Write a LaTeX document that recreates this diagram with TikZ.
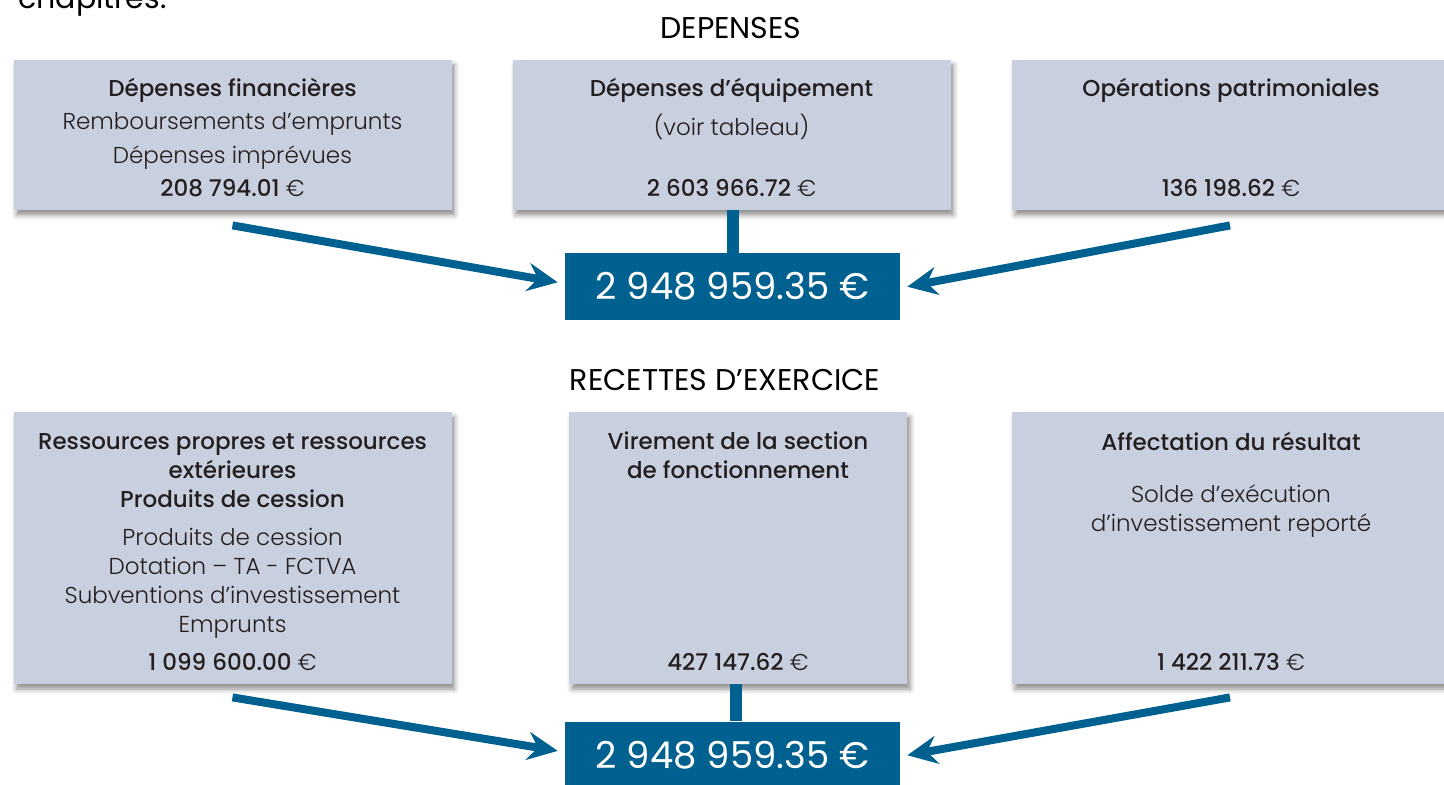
\documentclass[tikz,border=0pt]{standalone}
\usepackage{fontspec}
\setmainfont{Poppins}[UprightFont=* Light, BoldFont=* Medium]
\newfontfamily\headfont{Poppins}
\usetikzlibrary{positioning,calc,arrows.meta,shadows.blur}
\definecolor{panelgray}{HTML}{C8CFDF}
\definecolor{deepblue}{HTML}{00608F}
\definecolor{inkgray}{HTML}{231F20}
\tikzset{
  panel/.style={fill=panelgray, inner sep=0pt, minimum width=219pt,
    blur shadow={shadow xshift=1.5pt, shadow yshift=-2.5pt, shadow blur radius=2.5pt, shadow opacity=45}},
  boxtext/.style={inner sep=0pt, align=center, text=inkgray, font=\fontsize{11.5}{14.5}\selectfont},
  amount/.style={inner sep=0pt, anchor=base, text=inkgray, font=\fontsize{11.5}{14.5}\selectfont},
  total/.style={fill=deepblue, text=white, inner sep=0pt, minimum width=167.5pt, minimum height=33.5pt, font=\headfont\fontsize{18.5}{23}\selectfont},
  heading/.style={inner sep=0pt, text=black, font=\headfont\fontsize{15}{18}\selectfont},
  stub/.style={deepblue, line width=6pt},
  flow/.style={deepblue, line width=4pt, -{Stealth[length=15pt, width=14pt, inset=5pt]}, shorten >=3.5pt}
}
\begin{document}
\begin{tikzpicture}[x=0.5pt, y=-0.5pt]
  \useasboundingbox (0,0) rectangle (1444,785);
  \node[heading, anchor=base west] (intro) at (18,9) {chapitres.};

  % depenses
  \node[heading] (depTitle) at (731,28) {DEPENSES};
  \node[panel, minimum height=75pt] (depFin) at (232.5,135) {};
  \node[panel, minimum height=75pt] (depEquip) at (731.5,135) {};
  \node[panel, minimum height=75pt] (depPatri) at (1231,135) {};
  \node[boxtext, anchor=north] (depFinTxt) at ($(depFin.north)+(0,18)$)
    {\textbf{Dépenses financières}\\[2.25pt] Remboursements d’emprunts\\[2.25pt] Dépenses imprévues};
  \node[boxtext, anchor=north] (depEquipTxt) at ($(depEquip.north)+(0,18)$)
    {\textbf{Dépenses d’équipement}\\[5pt] (voir tableau)};
  \node[boxtext, anchor=north] (depPatriTxt) at ($(depPatri.north)+(0,18)$)
    {\textbf{Opérations patrimoniales}};
  \node[amount] (depFinVal) at ($(depFin.south)+(0,-14)$) {\textbf{208 794.01} €};
  \node[amount] (depEquipVal) at ($(depEquip.south)+(0,-14)$) {\textbf{2 603 966.72} €};
  \node[amount] (depPatriVal) at ($(depPatri.south)+(0,-14)$) {\textbf{136 198.62} €};
  \node[total] (depTotal) at (732.5,286.5) {2 948 959.35 €};
  \draw[stub] (depTotal.north) -- (depTotal.north |- depEquip.south);
  \coordinate (depFinEnd) at ($(depFin.south)+(0,15)$);
  \coordinate (depPatriEnd) at ($(depPatri.south)+(-1,15)$);
  \draw[flow] (depFinEnd) -- ($(depTotal.west)+(0,-3)$);
  \draw[flow] (depPatriEnd) -- ($(depTotal.east)+(0,1.5)$);

  % recettes
  \node[heading] (recTitle) at (725,380) {RECETTES D’EXERCICE};
  \node[panel, minimum height=136pt] (recRes) at (232.5,548) {};
  \node[panel, minimum height=136pt, minimum width=169pt] (recVir) at (738,548) {};
  \node[panel, minimum height=136pt] (recAff) at (1231,548) {};
  \node[boxtext, anchor=north] (recResTxt) at ($(recRes.north)+(0,22)$)
    {\textbf{Ressources propres et ressources}\\ \textbf{extérieures}\\ \textbf{Produits de cession}\\[4.5pt]
     Produits de cession\\ Dotation – TA - FCTVA\\ Subventions d’investissement\\ Emprunts};
  \node[boxtext, anchor=north] (recVirTxt) at ($(recVir.north)+(0,20)$)
    {\textbf{Virement de la section}\\ \textbf{de fonctionnement}};
  \node[boxtext, anchor=north] (recAffTxt) at ($(recAff.north)+(0,20)$)
    {\textbf{Affectation du résultat}\\[11.5pt] Solde d’exécution\\ d’investissement reporté};
  \node[amount] (recResVal) at ($(recRes.south)+(0,-14)$) {\textbf{1 099 600.00} €};
  \node[amount] (recVirVal) at ($(recVir.south)+(0,-14)$) {\textbf{427 147.62} €};
  \node[amount] (recAffVal) at ($(recAff.south)+(0,-14)$) {\textbf{1 422 211.73} €};
  \node[total] (recTotal) at (732.5,755) {2 948 959.35 €};
  \draw[stub] ($(recTotal.north)+(3,0)$) -- ($(recTotal.north |- recVir.south)+(3,0)$);
  \coordinate (recResEnd) at ($(recRes.south)+(0,13)$);
  \coordinate (recAffEnd) at ($(recAff.south)+(-1,13)$);
  \draw[flow] (recResEnd) -- ($(recTotal.west)+(0,-3)$);
  \draw[flow] (recAffEnd) -- ($(recTotal.east)+(0,1.5)$);
\end{tikzpicture}
\end{document}
